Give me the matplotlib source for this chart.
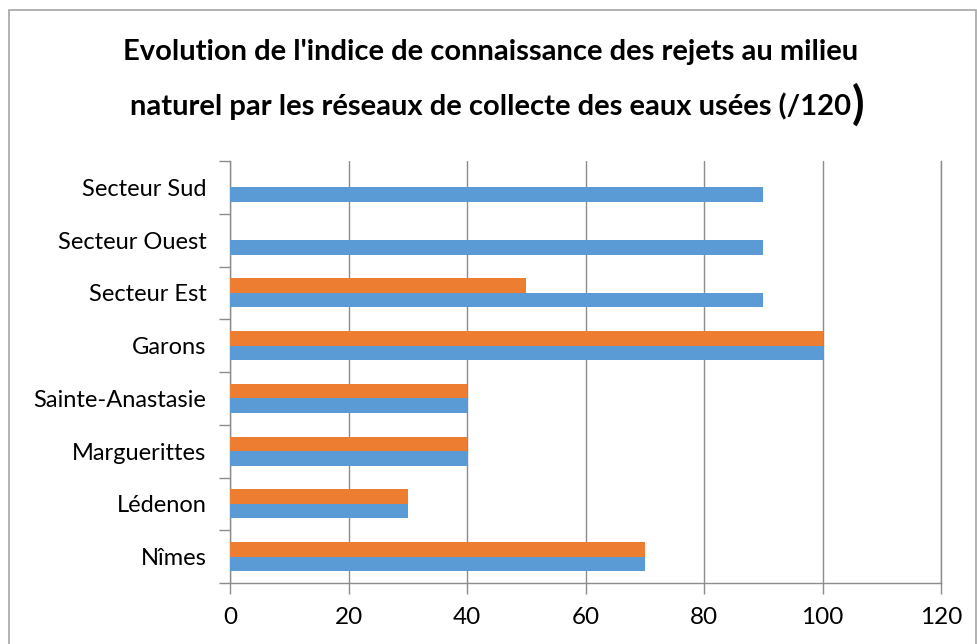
import matplotlib; matplotlib.use("Agg")
import matplotlib.pyplot as plt
from matplotlib.patches import Rectangle
import numpy as np

BLUE = "#5B9BD5"; ORANGE = "#ED7D31"; GRIDC = "#8C8C8C"; INK = "#000000"

plt.rcParams.update({
    "font.family": ["Lato", "DejaVu Sans"],
    "font.size": 14,
})

categories = ["Nîmes", "Lédenon", "Marguerittes", "Sainte-Anastasie",
              "Garons", "Secteur Est", "Secteur Ouest", "Secteur Sud"]
serie_bleue = [70, 30, 40, 40, 100, 90, 90, 90]
serie_orange = [70, 30, 40, 40, 100, 50, 0, 0]
xticks = [0, 20, 40, 60, 80, 100, 120]

fig = plt.figure(figsize=(9.78, 6.44), dpi=100)
ax = fig.add_axes([230 / 978, 1 - 583 / 644, (941 - 230) / 978, (583 - 161) / 644])

y = np.arange(len(categories))
h = 0.275
ax.barh(y - h / 2, serie_bleue, height=h, color=BLUE, lw=0, zorder=3)
ax.barh(y + h / 2, serie_orange, height=h, color=ORANGE, lw=0, zorder=3)

ax.set_xlim(0, 120)
ax.set_ylim(-0.5, len(categories) - 0.5)
ax.set_xticks(xticks)
ax.set_yticks(y)
ax.set_yticklabels(categories)
ax.set_yticks(np.arange(-0.5, len(categories)), minor=True)
ax.tick_params(axis="y", which="major", length=0, pad=17, labelsize=17)
ax.tick_params(axis="y", which="minor", length=8, color=GRIDC, width=1)
ax.tick_params(axis="x", length=8, color=GRIDC, width=1, pad=9, labelsize=17.5)
ax.grid(axis="x", color=GRIDC, lw=1, zorder=0)
ax.spines["top"].set_visible(False)
for sp in ("left", "bottom", "right"):
    ax.spines[sp].set_color(GRIDC)
    ax.spines[sp].set_linewidth(1)

fig.text(491 / 978, 1 - 52 / 644, "Evolution de l'indice de connaissance des rejets au milieu",
         ha="center", va="center", fontsize=21, fontweight="bold")
t2 = fig.text(490 / 978, 1 - 106 / 644, "naturel par les réseaux de collecte des eaux usées (/120",
              ha="center", va="center", fontsize=21, fontweight="bold")
ax.annotate(")", xy=(1, 0), xycoords=t2, xytext=(1, -5), textcoords="offset points",
            fontsize=33, fontweight="bold", va="bottom", ha="left", annotation_clip=False)

fig.patches.append(Rectangle((9 / 978, -0.05), (976 - 9) / 978, 1 - 10 / 644 + 0.05,
                             transform=fig.transFigure, fill=False, ec="#A6A6A6", lw=1.2))

fig.savefig("out.png", dpi=100)
